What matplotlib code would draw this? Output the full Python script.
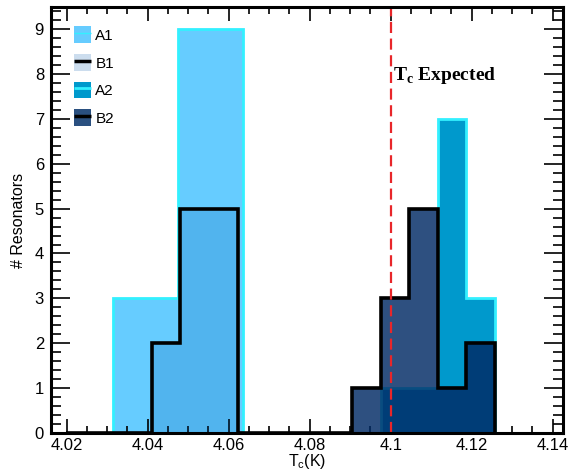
import matplotlib
matplotlib.use("Agg")
import matplotlib.pyplot as plt
from matplotlib.lines import Line2D
from matplotlib.patches import Patch
from matplotlib.legend_handler import HandlerTuple
from matplotlib.ticker import MultipleLocator

# ---- data ----
a1_edges = [4.0153, 4.0314, 4.0475, 4.0636]
a1_counts = [0, 3, 9]

b1_edges = [4.0198, 4.0269, 4.0339, 4.0410, 4.0480, 4.0551, 4.0622, 4.0904]
b1_counts = [0, 0, 0, 2, 5, 5, 0]

a2_edges = [4.0904, 4.0975, 4.1045, 4.1116, 4.1186, 4.1257]
a2_counts = [0, 1, 1, 7, 3]

b2_edges = [4.0904, 4.0975, 4.1045, 4.1116, 4.1186, 4.1257]
b2_counts = [1, 3, 5, 1, 2]

tc_expected = 4.1
xticks = [4.02, 4.04, 4.06, 4.08, 4.10, 4.12, 4.14]
xtick_labels = ["4.02", "4.04", "4.06", "4.08", "4.1", "4.12", "4.14"]
series_labels = ["A1", "B1", "A2", "B2"]

# ---- style ----
plt.rcParams['font.family'] = ['Liberation Sans', 'DejaVu Sans']
c_a1 = "#66ccff"
c_a2 = "#0099cc"
c_b1 = "#0055aa"
cyan = "#33f0ff"

fig = plt.figure(figsize=(5.79, 4.71), dpi=100)
ax = fig.add_axes([0.088, 0.081, 0.884, 0.9035])

def hist(edges, counts, fc, ec, lw, alpha=1.0, z=1):
    ax.stairs(counts, edges, fill=True, facecolor=fc, edgecolor='none', alpha=alpha, zorder=z)
    ax.stairs(counts, edges, fill=False, color=ec, linewidth=lw, zorder=z + 0.5,
              baseline=0)

hist(a1_edges, a1_counts, c_a1, cyan, 2.0, z=1)
hist(b1_edges, b1_counts, c_b1, "black", 2.6, alpha=0.2, z=2)
hist(a2_edges, a2_counts, c_a2, cyan, 2.0, z=3)
hist(b2_edges, b2_counts, "#002964", "black", 2.6, alpha=0.82, z=4)

ax.axvline(tc_expected, color="#e8262a", linestyle=(0, (5, 2.5)), linewidth=1.6, zorder=6)
ax.text(4.1005, 7.98, r"T$_\mathregular{c}$ Expected", fontsize=14, fontweight="bold",
        family="Liberation Serif", ha="left", va="center", zorder=7)

ax.set_xlim(4.0161, 4.1425)
ax.set_ylim(0, 9.49)
ax.set_xticks(xticks)
ax.set_xticklabels(xtick_labels)
ax.xaxis.set_minor_locator(MultipleLocator(0.005))
ax.yaxis.set_major_locator(MultipleLocator(1))
ax.yaxis.set_minor_locator(MultipleLocator(0.2))
ax.tick_params(which="both", direction="in", top=True, right=True, width=1.2)
ax.tick_params(which="major", axis="y", length=14, pad=5, labelsize=12)
ax.tick_params(which="minor", axis="y", length=7)
ax.tick_params(which="major", axis="x", length=10, pad=4, labelsize=12)
ax.tick_params(which="minor", axis="x", length=5)
for s in ax.spines.values():
    s.set_linewidth(2.2)
    s.set_zorder(8)

ax.set_xlabel(r"T$_\mathregular{c}$(K)", fontsize=11.5, labelpad=-1)
ax.set_ylabel("# Resonators", fontsize=11.5, labelpad=6)

handles = [
    (Patch(facecolor=c_a1, edgecolor='none'),
     Line2D([], [], color=cyan, lw=1, solid_capstyle="butt")),
    (Patch(facecolor="#ccddee", edgecolor='none'),
     Line2D([], [], color="black", lw=2.5, solid_capstyle="butt")),
    (Patch(facecolor=c_a2, edgecolor='none'),
     Line2D([], [], color=cyan, lw=2, solid_capstyle="butt")),
    (Patch(facecolor="#2a5080", edgecolor='none'),
     Line2D([], [], color="black", lw=2.5, solid_capstyle="butt")),
]
leg = ax.legend(handles, series_labels, handler_map={tuple: HandlerTuple(ndivide=1, pad=0)},
                loc="upper left", bbox_to_anchor=(0.045, 0.955), frameon=False, fontsize=11,
                handlelength=1.1, handleheight=1.3, labelspacing=0.72, handletextpad=0.3,
                borderaxespad=0, borderpad=0)
leg.set_zorder(9)

fig.savefig("out.png", dpi=100)
